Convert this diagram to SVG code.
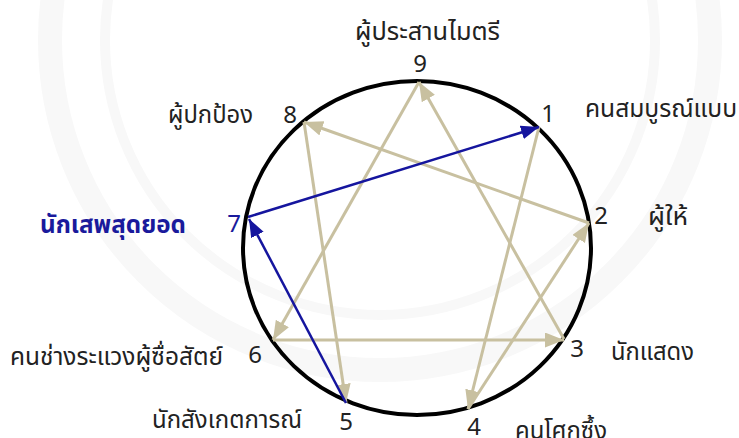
<svg xmlns="http://www.w3.org/2000/svg" width="739" height="438" viewBox="0 0 739 438">
<style>
.t{font-family:"Noto Sans Thai","Noto Sans","Liberation Sans",sans-serif;font-size:24px;fill:#222}
.n{font-family:"Noto Sans","Liberation Sans",sans-serif;font-size:24px;fill:#222;text-anchor:middle}
.b{fill:#1a1a9c}
.tan{stroke:#c8c0a0;stroke-width:3;fill:none}
.blue{stroke:#15159e;stroke-width:2.5;fill:none}
.wm{fill:none;stroke:#f8f8f8}
</style>
<defs>
<marker id="ah" markerUnits="userSpaceOnUse" markerWidth="20" markerHeight="16" refX="19" refY="7.5" orient="auto"><path d="M0,0 L19,7.5 L0,15 z" fill="#c8c0a0"/></marker>
<marker id="ab" markerUnits="userSpaceOnUse" markerWidth="20" markerHeight="16" refX="18" refY="7" orient="auto"><path d="M0,0 L18,7 L0,14 z" fill="#15159e"/></marker>
</defs>
<rect width="739" height="438" fill="#fff"/>
<g id="watermark">
<circle class="wm" cx="380" cy="40" r="330" stroke-width="24"/>
<circle class="wm" cx="380" cy="40" r="275" stroke-width="10"/>
</g>
<g id="ring"><ellipse cx="417" cy="248" rx="174" ry="167" fill="none" stroke="#000" stroke-width="4"/></g>
<g id="connectors">
<line class="tan" x1="539" y1="127" x2="468" y2="409" marker-end="url(#ah)"/>
<line class="tan" x1="468" y1="409" x2="589" y2="223" marker-end="url(#ah)"/>
<line class="tan" x1="589" y1="223" x2="304" y2="122" marker-end="url(#ah)"/>
<line class="tan" x1="304" y1="122" x2="346" y2="403" marker-end="url(#ah)"/>
<line class="tan" x1="564" y1="339" x2="419" y2="82" marker-end="url(#ah)"/>
<line class="tan" x1="419" y1="82" x2="273" y2="340" marker-end="url(#ah)"/>
<line class="tan" x1="273" y1="340" x2="564" y2="340" marker-end="url(#ah)"/>
<line class="blue" x1="346" y1="403" x2="249" y2="219" marker-end="url(#ab)"/>
<line class="blue" x1="248" y1="217" x2="539" y2="127" marker-end="url(#ab)"/>
</g>
<g id="n9"><text class="t" x="355" y="40" textLength="145" lengthAdjust="spacingAndGlyphs">ผู้ประสานไมตรี</text><text class="n" x="420" y="72">9</text></g>
<g id="n1"><text class="n" x="548" y="122">1</text><text class="t" x="585" y="117" textLength="152" lengthAdjust="spacingAndGlyphs">คนสมบูรณ์แบบ</text></g>
<g id="n2"><text class="n" x="601" y="224">2</text><text class="t" x="648" y="225" textLength="40" lengthAdjust="spacingAndGlyphs">ผู้ให้</text></g>
<g id="n3"><text class="n" x="577" y="357">3</text><text class="t" x="611" y="360" textLength="83" lengthAdjust="spacingAndGlyphs">นักแสดง</text></g>
<g id="n4"><text class="n" x="474" y="435">4</text><text class="t" x="515" y="439" textLength="92" lengthAdjust="spacingAndGlyphs">คนโศกซึ้ง</text></g>
<g id="n5"><text class="n" x="346" y="430">5</text><text class="t" x="152" y="428" textLength="150" lengthAdjust="spacingAndGlyphs">นักสังเกตการณ์</text></g>
<g id="n6"><text class="n" x="255" y="363">6</text><text class="t" x="10" y="365" textLength="213" lengthAdjust="spacingAndGlyphs">คนช่างระแวงผู้ซื่อสัตย์</text></g>
<g id="n7"><text class="n b" x="234" y="232">7</text><text class="t b" x="40" y="233" font-weight="bold" textLength="146" lengthAdjust="spacingAndGlyphs">นักเสพสุดยอด</text></g>
<g id="n8"><text class="n" x="290" y="123">8</text><text class="t" x="168" y="123" textLength="85" lengthAdjust="spacingAndGlyphs">ผู้ปกป้อง</text></g>
</svg>
